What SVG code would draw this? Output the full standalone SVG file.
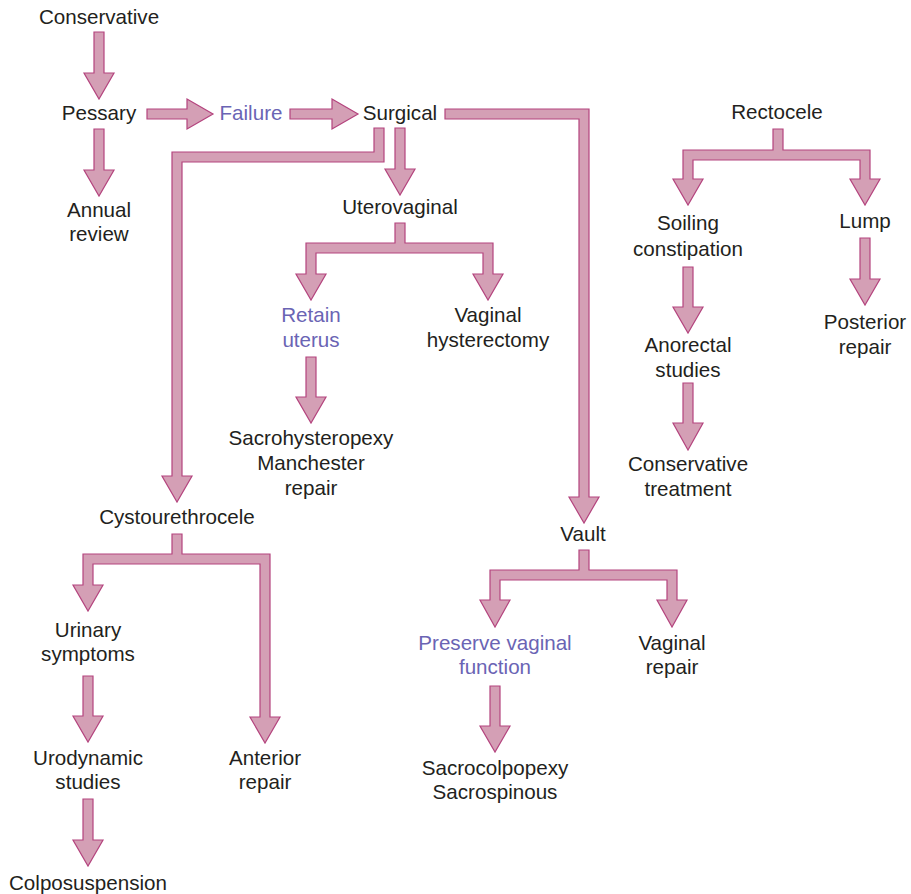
<svg xmlns="http://www.w3.org/2000/svg" width="911" height="894" viewBox="0 0 911 894">
<style>
.a{fill:#d49fb5;stroke:#b4447e;stroke-width:1.2;stroke-linejoin:miter}
text{font-family:"Liberation Sans",Arial,sans-serif;font-size:20.6px;fill:#231f20;text-anchor:middle}
.p{fill:#6a64b4}
</style>
<rect width="911" height="894" fill="#ffffff"/>
<g id="connectors">
<path class="a" d="M94,32 H104 V73 H114 L99,99 L84,73 H94 Z"/>
<path class="a" d="M94,129 H104 V170 H114 L99,196 L84,170 H94 Z"/>
<path class="a" d="M147,109 H187 V99 L213,114 L187,129 V119 H147 Z"/>
<path class="a" d="M290,109 H332 V99 L358,114 L332,129 V119 H290 Z"/>
<path class="a" d="M395,128 H405 V169 H415 L400,195 L385,169 H395 Z"/>
<path class="a" d="M374,128 H384 V162 H182 V476 H192 L177,502 L162,476 H172 V152 H374 Z"/>
<path class="a" d="M445,109 H589 V497 H599 L584,523 L569,497 H579 V119 H445 Z"/>
<path class="a" d="M395,223 H405 V243 H493 V274 H503 L488,300 L473,274 H483 V253 H316 V274 H326 L311,300 L296,274 H306 V243 H395 Z"/>
<path class="a" d="M306,357 H316 V397 H326 L311,423 L296,397 H306 Z"/>
<path class="a" d="M172,534 H182 V554 H270 V717 H280 L265,743 L250,717 H260 V564 H93 V585 H103 L88,611 L73,585 H83 V554 H172 Z"/>
<path class="a" d="M83,676 H93 V716 H103 L88,742 L73,716 H83 Z"/>
<path class="a" d="M83,799 H93 V840 H103 L88,866 L73,840 H83 Z"/>
<path class="a" d="M579,550 H589 V570 H677 V600 H687 L672,627 L657,600 H667 V580 H500 V600 H510 L495,627 L480,600 H490 V570 H579 Z"/>
<path class="a" d="M490,686 H500 V726 H510 L495,752 L480,726 H490 Z"/>
<path class="a" d="M773,129 H783 V150 H870 V179 H880 L865,205 L850,179 H860 V160 H693 V179 H703 L688,205 L673,179 H683 V150 H773 Z"/>
<path class="a" d="M683,267 H693 V307 H703 L688,333 L673,307 H683 Z"/>
<path class="a" d="M683,383 H693 V423 H703 L688,450 L673,423 H683 Z"/>
<path class="a" d="M860,238 H870 V279 H880 L865,305 L850,279 H860 Z"/>
</g>
<g id="conservative"><text x="99" y="24">Conservative</text></g>
<g id="pessary"><text x="99" y="120">Pessary</text></g>
<g id="annual-review"><text x="99" y="217">Annual</text><text x="99" y="241">review</text></g>
<g id="failure"><text class="p" x="251" y="120">Failure</text></g>
<g id="surgical"><text x="400" y="120">Surgical</text></g>
<g id="uterovaginal"><text x="400" y="214">Uterovaginal</text></g>
<g id="retain-uterus"><text class="p" x="311" y="322">Retain</text><text class="p" x="311" y="347">uterus</text></g>
<g id="vaginal-hysterectomy"><text x="488" y="322">Vaginal</text><text x="488" y="347">hysterectomy</text></g>
<g id="sacrohysteropexy"><text x="311" y="445">Sacrohysteropexy</text><text x="311" y="470">Manchester</text><text x="311" y="495">repair</text></g>
<g id="cystourethrocele"><text x="177" y="524">Cystourethrocele</text></g>
<g id="urinary-symptoms"><text x="88" y="637">Urinary</text><text x="88" y="661">symptoms</text></g>
<g id="urodynamic-studies"><text x="88" y="765">Urodynamic</text><text x="88" y="789">studies</text></g>
<g id="colposuspension"><text x="88" y="890">Colposuspension</text></g>
<g id="anterior-repair"><text x="265" y="765">Anterior</text><text x="265" y="789">repair</text></g>
<g id="vault"><text x="583" y="541">Vault</text></g>
<g id="preserve-vaginal-function"><text class="p" x="495" y="650">Preserve vaginal</text><text class="p" x="495" y="674">function</text></g>
<g id="vaginal-repair"><text x="672" y="650">Vaginal</text><text x="672" y="674">repair</text></g>
<g id="sacrocolpopexy"><text x="495" y="775">Sacrocolpopexy</text><text x="495" y="799">Sacrospinous</text></g>
<g id="rectocele"><text x="777" y="119">Rectocele</text></g>
<g id="soiling-constipation"><text x="688" y="230">Soiling</text><text x="688" y="256">constipation</text></g>
<g id="lump"><text x="865" y="228">Lump</text></g>
<g id="anorectal-studies"><text x="688" y="352">Anorectal</text><text x="688" y="377">studies</text></g>
<g id="conservative-treatment"><text x="688" y="471">Conservative</text><text x="688" y="496">treatment</text></g>
<g id="posterior-repair"><text x="865" y="329">Posterior</text><text x="865" y="354">repair</text></g>
</svg>
